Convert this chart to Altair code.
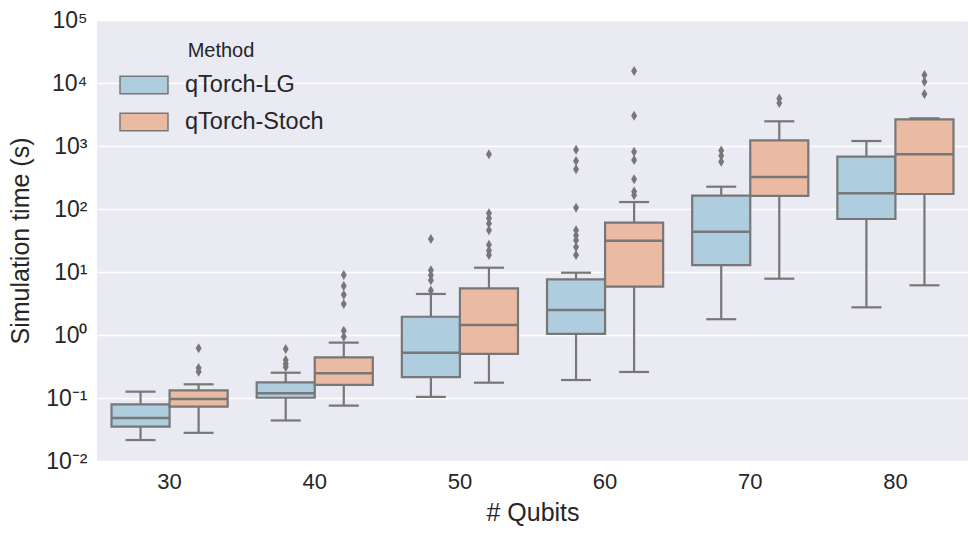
import altair as alt
import pandas as pd

qubits = [30, 40, 50, 60, 70, 80]
methods = ["qTorch-LG", "qTorch-Stoch"]

lg_lo = [0.0215, 0.044, 0.104, 0.193, 1.78, 2.75]
lg_q1 = [0.035, 0.101, 0.215, 1.04, 12.9, 69.4]
lg_med = [0.048, 0.119, 0.524, 2.49, 43.6, 178]
lg_q3 = [0.079, 0.177, 1.95, 7.66, 163, 676]
lg_hi = [0.126, 0.252, 4.48, 9.75, 226, 1200]

st_lo = [0.028, 0.0755, 0.175, 0.259, 7.83, 6.15]
st_q1 = [0.073, 0.161, 0.5, 5.85, 161, 173]
st_med = [0.096, 0.246, 1.44, 31.4, 322, 738]
st_q3 = [0.132, 0.443, 5.5, 60.6, 1232, 2650]
st_hi = [0.165, 0.755, 11.7, 129, 2467, 2750]

lg_out = [
    [],
    [0.6, 0.4, 0.35, 0.31],
    [33.4, 10.7, 8.9, 7.4, 5.1],
    [870, 580, 427, 105, 46, 38, 32, 25, 18.6],
    [850, 700, 560],
    [],
]
st_out = [
    [0.615, 0.3, 0.26],
    [8.96, 6.0, 4.37, 3.1, 1.17, 0.94],
    [738, 85.5, 71, 59, 46, 27, 22, 18.6],
    [15500, 3030, 810, 600, 296, 190, 165],
    [5700, 4800],
    [13400, 10500, 6690],
]

rows = []
for m, lo, q1, med, q3, hi in [
    (methods[0], lg_lo, lg_q1, lg_med, lg_q3, lg_hi),
    (methods[1], st_lo, st_q1, st_med, st_q3, st_hi),
]:
    for i, q in enumerate(qubits):
        rows.append(dict(Qubits=str(q), Method=m, lo=lo[i], q1=q1[i], med=med[i], q3=q3[i], hi=hi[i]))
stats = pd.DataFrame(rows)

orows = []
for m, outs in [(methods[0], lg_out), (methods[1], st_out)]:
    for i, q in enumerate(qubits):
        for v in outs[i]:
            orows.append(dict(Qubits=str(q), Method=m, v=v))
outl = pd.DataFrame(orows)

GRAY = "#777777"
TXT = "#262626"
FONT = "Liberation Sans"
yticks = [0.01, 0.1, 1, 10, 100, 1000, 10000, 100000]
sup = {0.01: "10⁻²", 0.1: "10⁻¹", 1: "10⁰", 10: "10¹", 100: "10²", 1000: "10³", 10000: "10⁴", 100000: "10⁵"}
expr = "''"
for k in reversed(yticks):
    expr = f"(abs(datum.value - {k}) < {k}*0.01) ? '{sup[k]}' : " + expr

xenc = alt.X("Qubits:N", sort=[str(q) for q in qubits],
             scale=alt.Scale(paddingInner=0, paddingOuter=0),
             axis=alt.Axis(title="# Qubits", labelAngle=0, ticks=False, domain=False,
                           labelFontSize=22, titleFontSize=25, labelPadding=10, titlePadding=8,
                           labelColor=TXT, titleColor=TXT, labelFont=FONT, titleFont=FONT,
                           titleFontWeight="normal"))
xoff = alt.XOffset("Method:N", sort=methods, scale=alt.Scale(paddingOuter=0.25, paddingInner=0))
yscale = alt.Scale(type="log", domain=[0.01, 100000], nice=False)
yaxis = alt.Axis(title="Simulation time (s)", values=yticks, labelExpr=expr, grid=True,
                 gridColor="white", gridWidth=1.5, ticks=False, domain=False,
                 labelFontSize=23, titleFontSize=25, labelPadding=10, titlePadding=12,
                 labelColor=TXT, titleColor=TXT, labelFont=FONT, titleFont=FONT,
                 titleFontWeight="normal")

base = alt.Chart(stats)

whisk_lo = base.mark_rule(color=GRAY, strokeWidth=2.2).encode(
    x=xenc, xOffset=xoff, y=alt.Y("lo:Q", scale=yscale, axis=yaxis), y2="q1:Q")
whisk_hi = base.mark_rule(color=GRAY, strokeWidth=2.2).encode(
    x=xenc, xOffset=xoff, y=alt.Y("q3:Q", scale=yscale), y2="hi:Q")
cap_lo = base.mark_tick(color=GRAY, size=30, thickness=2.2, opacity=1).encode(
    x=xenc, xOffset=xoff, y=alt.Y("lo:Q", scale=yscale))
cap_hi = base.mark_tick(color=GRAY, size=30, thickness=2.2, opacity=1).encode(
    x=xenc, xOffset=xoff, y=alt.Y("hi:Q", scale=yscale))
box = base.mark_bar(stroke=GRAY, strokeWidth=2.2, opacity=1).encode(
    x=xenc, xOffset=xoff, y=alt.Y("q1:Q", scale=yscale), y2="q3:Q",
    color=alt.Color("Method:N", sort=methods,
                    scale=alt.Scale(domain=methods, range=["#AECDDF", "#EBBAA3"]),
                    legend=alt.Legend(title="Method", orient="none", legendX=22, legendY=21,
                                      titleAnchor="middle", titleFontSize=20, labelFontSize=23.5,
                                      titleFont=FONT, labelFont=FONT, titleFontWeight="normal",
                                      titleColor=TXT, labelColor=TXT,
                                      symbolType="M-1,-0.36L1,-0.36L1,0.36L-1,0.36Z",
                                      symbolSize=2300, symbolStrokeColor=GRAY, symbolStrokeWidth=1.5,
                                      symbolOpacity=1,
                                      rowPadding=-3, labelOffset=16, titlePadding=-1)))
median = base.mark_tick(color=GRAY, size=57, thickness=2.5, opacity=1).encode(
    x=xenc, xOffset=xoff, y=alt.Y("med:Q", scale=yscale))
pts = alt.Chart(outl).mark_point(shape="M0,-1L0.6,0L0,1L-0.6,0Z", size=100, filled=True,
                                 color=GRAY, opacity=1).encode(
    x=xenc, xOffset=xoff, y=alt.Y("v:Q", scale=yscale))

chart = alt.layer(whisk_lo, whisk_hi, cap_lo, cap_hi, box, median, pts).properties(
    width=871, height=441,
    autosize=alt.AutoSizeParams(type="none"),
    padding={"left": 97, "top": 20, "right": 2, "bottom": 72},
    background="white",
).configure_view(fill="#EAEAF2", stroke=None)

chart.save("out.html", embed_options={"renderer": "svg", "actions": False})
